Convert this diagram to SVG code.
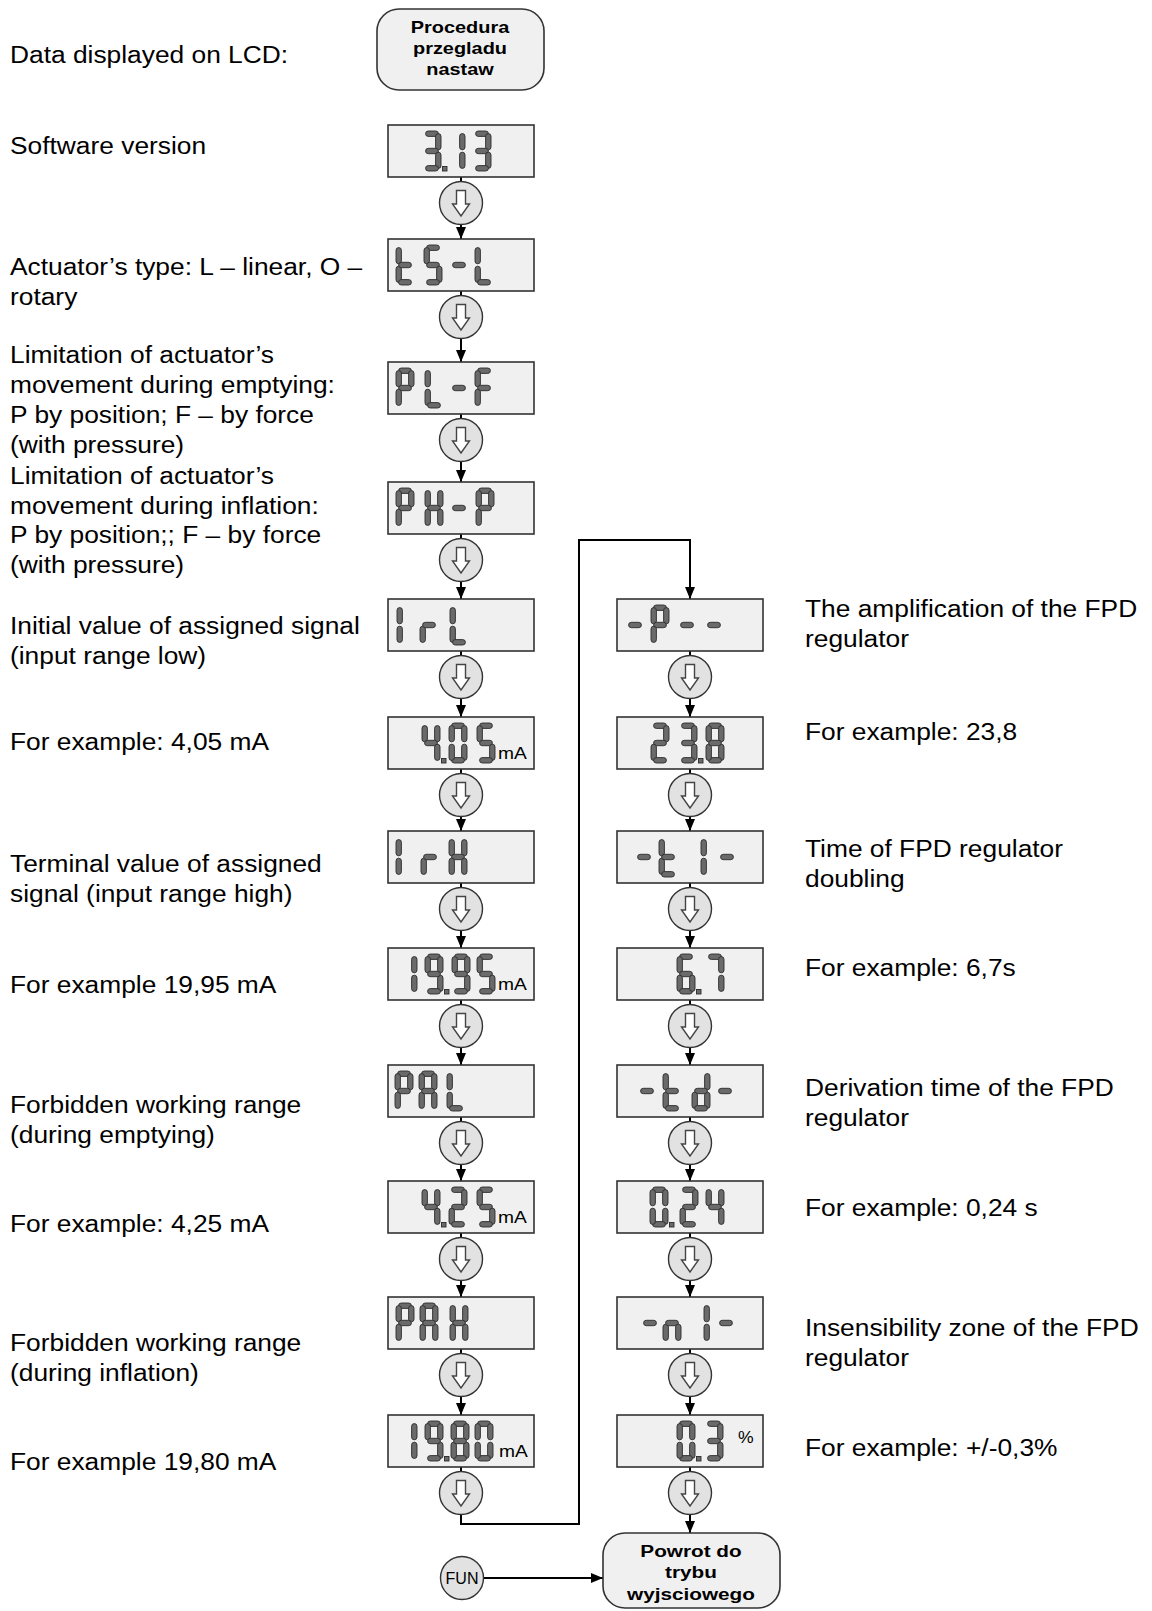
<svg xmlns="http://www.w3.org/2000/svg" xmlns:xlink="http://www.w3.org/1999/xlink" width="1152" height="1611" viewBox="0 0 1152 1611">
<style>
.box{fill:#f0f0f0;stroke:#333;stroke-width:1.6}
.btn{fill:#e2e2e2;stroke:#333;stroke-width:1.4}
.term{fill:#f0f0f0;stroke:#333;stroke-width:1.6}
.seg{fill:#6a6a6a;stroke:#2b2b2b;stroke-width:0.9}
.harr{fill:#fff;stroke:#444;stroke-width:1.4}
.lbl{font-family:"Liberation Sans",Arial,sans-serif;font-size:23px;fill:#000}
.tt{font-family:"Liberation Sans",Arial,sans-serif;font-size:17px;font-weight:bold;text-anchor:middle;fill:#000}
.unit{font-family:"Liberation Sans",Arial,sans-serif;font-size:16px;fill:#000}
.fun{font-family:"Liberation Sans",Arial,sans-serif;font-size:16px;text-anchor:middle;fill:#000}
.conn{fill:none;stroke:#000;stroke-width:2}
</style>
<defs>
<marker id="ah" viewBox="0 0 12 10" refX="12" refY="5" markerWidth="12" markerHeight="10" markerUnits="userSpaceOnUse" orient="auto"><path d="M0,0 L12,5 L0,10 z" fill="#000"/></marker>
<path id="darr" class="harr" d="M-4.5,-12.5 H4.5 V1 H8.5 L0,13 L-8.5,1 H-4.5 Z"/>
<rect id="sa" x="2.6" y="0" width="12.8" height="5.4" rx="2.7"/>
<rect id="sg" x="2.6" y="17.3" width="12.8" height="5.4" rx="2.7"/>
<rect id="sd" x="2.6" y="34.6" width="12.8" height="5.4" rx="2.7"/>
<rect id="sf" x="0" y="2.6" width="5.4" height="16.2" rx="2.7"/>
<rect id="sb" x="12.6" y="2.6" width="5.4" height="16.2" rx="2.7"/>
<rect id="se" x="0" y="21.2" width="5.4" height="16.2" rx="2.7"/>
<rect id="sc" x="12.6" y="21.2" width="5.4" height="16.2" rx="2.7"/>
<rect id="dp" width="4.5" height="4.5"/>
<g id="c0"><use href="#sa"/><use href="#sb"/><use href="#sc"/><use href="#sd"/><use href="#se"/><use href="#sf"/></g>
<g id="c1"><use href="#sb"/><use href="#sc"/></g>
<g id="c2"><use href="#sa"/><use href="#sb"/><use href="#sg"/><use href="#se"/><use href="#sd"/></g>
<g id="c3"><use href="#sa"/><use href="#sb"/><use href="#sg"/><use href="#sc"/><use href="#sd"/></g>
<g id="c4"><use href="#sf"/><use href="#sb"/><use href="#sg"/><use href="#sc"/></g>
<g id="c5"><use href="#sa"/><use href="#sf"/><use href="#sg"/><use href="#sc"/><use href="#sd"/></g>
<g id="c6"><use href="#sa"/><use href="#sf"/><use href="#sg"/><use href="#se"/><use href="#sd"/><use href="#sc"/></g>
<g id="c7"><use href="#sa"/><use href="#sb"/><use href="#sc"/></g>
<g id="c8"><use href="#sa"/><use href="#sb"/><use href="#sc"/><use href="#sd"/><use href="#se"/><use href="#sf"/><use href="#sg"/></g>
<g id="c9"><use href="#sa"/><use href="#sb"/><use href="#sc"/><use href="#sd"/><use href="#sf"/><use href="#sg"/></g>
<g id="cA"><use href="#sa"/><use href="#sb"/><use href="#sc"/><use href="#se"/><use href="#sf"/><use href="#sg"/></g>
<g id="cd"><use href="#sb"/><use href="#sc"/><use href="#sg"/><use href="#se"/><use href="#sd"/></g>
<g id="cF"><use href="#sa"/><use href="#sf"/><use href="#sg"/><use href="#se"/></g>
<g id="cH"><use href="#sf"/><use href="#sb"/><use href="#sg"/><use href="#se"/><use href="#sc"/></g>
<g id="cI"><use href="#sf"/><use href="#se"/></g>
<g id="cL"><use href="#sf"/><use href="#se"/><use href="#sd"/></g>
<g id="cn"><use href="#se"/><use href="#sg"/><use href="#sc"/></g>
<g id="cP"><use href="#sa"/><use href="#sb"/><use href="#sf"/><use href="#sg"/><use href="#se"/></g>
<g id="cr"><use href="#se"/><use href="#sg"/></g>
<g id="ct"><use href="#sf"/><use href="#se"/><use href="#sg"/><use href="#sd"/></g>
<g id="cm"><use href="#sg"/></g>
</defs>
<rect width="1152" height="1611" fill="#fff"/>

<g id="labels">
<text class="lbl" transform="translate(10 63) scale(1.145 1)">Data displayed on LCD:</text>
<text class="lbl" transform="translate(10 154) scale(1.145 1)">Software version</text>
<text class="lbl" transform="translate(10 275) scale(1.145 1)">Actuator’s type: L – linear, O –</text>
<text class="lbl" transform="translate(10 305) scale(1.145 1)">rotary</text>
<text class="lbl" transform="translate(10 363) scale(1.145 1)">Limitation of actuator’s</text>
<text class="lbl" transform="translate(10 393) scale(1.145 1)">movement during emptying:</text>
<text class="lbl" transform="translate(10 423) scale(1.145 1)">P by position; F – by force</text>
<text class="lbl" transform="translate(10 453) scale(1.145 1)">(with pressure)</text>
<text class="lbl" transform="translate(10 484) scale(1.145 1)">Limitation of actuator’s</text>
<text class="lbl" transform="translate(10 514) scale(1.145 1)">movement during inflation:</text>
<text class="lbl" transform="translate(10 543) scale(1.145 1)">P by position;; F – by force</text>
<text class="lbl" transform="translate(10 573) scale(1.145 1)">(with pressure)</text>
<text class="lbl" transform="translate(10 634) scale(1.145 1)">Initial value of assigned signal</text>
<text class="lbl" transform="translate(10 664) scale(1.145 1)">(input range low)</text>
<text class="lbl" transform="translate(10 750) scale(1.145 1)">For example: 4,05 mA</text>
<text class="lbl" transform="translate(10 872) scale(1.145 1)">Terminal value of assigned</text>
<text class="lbl" transform="translate(10 902) scale(1.145 1)">signal (input range high)</text>
<text class="lbl" transform="translate(10 993) scale(1.145 1)">For example 19,95 mA</text>
<text class="lbl" transform="translate(10 1113) scale(1.145 1)">Forbidden working range</text>
<text class="lbl" transform="translate(10 1143) scale(1.145 1)">(during emptying)</text>
<text class="lbl" transform="translate(10 1232) scale(1.145 1)">For example: 4,25 mA</text>
<text class="lbl" transform="translate(10 1351) scale(1.145 1)">Forbidden working range</text>
<text class="lbl" transform="translate(10 1381) scale(1.145 1)">(during inflation)</text>
<text class="lbl" transform="translate(10 1470) scale(1.145 1)">For example 19,80 mA</text>
<text class="lbl" transform="translate(805 617) scale(1.145 1)">The amplification of the FPD</text>
<text class="lbl" transform="translate(805 647) scale(1.145 1)">regulator</text>
<text class="lbl" transform="translate(805 740) scale(1.145 1)">For example: 23,8</text>
<text class="lbl" transform="translate(805 857) scale(1.145 1)">Time of FPD regulator</text>
<text class="lbl" transform="translate(805 887) scale(1.145 1)">doubling</text>
<text class="lbl" transform="translate(805 976) scale(1.145 1)">For example: 6,7s</text>
<text class="lbl" transform="translate(805 1096) scale(1.145 1)">Derivation time of the FPD</text>
<text class="lbl" transform="translate(805 1126) scale(1.145 1)">regulator</text>
<text class="lbl" transform="translate(805 1216) scale(1.145 1)">For example: 0,24 s</text>
<text class="lbl" transform="translate(805 1336) scale(1.145 1)">Insensibility zone of the FPD</text>
<text class="lbl" transform="translate(805 1366) scale(1.145 1)">regulator</text>
<text class="lbl" transform="translate(805 1456) scale(1.145 1)">For example: +/-0,3%</text>
</g>

<g id="connectors">
<line class="conn" x1="461" y1="177" x2="461" y2="181.5"/>
<line class="conn" x1="461" y1="224.5" x2="461" y2="239" marker-end="url(#ah)"/>
<line class="conn" x1="461" y1="291" x2="461" y2="295.5"/>
<line class="conn" x1="461" y1="338.5" x2="461" y2="362" marker-end="url(#ah)"/>
<line class="conn" x1="461" y1="414" x2="461" y2="418.5"/>
<line class="conn" x1="461" y1="461.5" x2="461" y2="482" marker-end="url(#ah)"/>
<line class="conn" x1="461" y1="534" x2="461" y2="538.5"/>
<line class="conn" x1="461" y1="581.5" x2="461" y2="599" marker-end="url(#ah)"/>
<line class="conn" x1="461" y1="651" x2="461" y2="655.5"/>
<line class="conn" x1="461" y1="698.5" x2="461" y2="717" marker-end="url(#ah)"/>
<line class="conn" x1="461" y1="769" x2="461" y2="773.5"/>
<line class="conn" x1="461" y1="816.5" x2="461" y2="831" marker-end="url(#ah)"/>
<line class="conn" x1="461" y1="883" x2="461" y2="887.5"/>
<line class="conn" x1="461" y1="930.5" x2="461" y2="948" marker-end="url(#ah)"/>
<line class="conn" x1="461" y1="1000" x2="461" y2="1004.5"/>
<line class="conn" x1="461" y1="1047.5" x2="461" y2="1065" marker-end="url(#ah)"/>
<line class="conn" x1="461" y1="1117" x2="461" y2="1121.5"/>
<line class="conn" x1="461" y1="1164.5" x2="461" y2="1181" marker-end="url(#ah)"/>
<line class="conn" x1="461" y1="1233" x2="461" y2="1237.5"/>
<line class="conn" x1="461" y1="1280.5" x2="461" y2="1297" marker-end="url(#ah)"/>
<line class="conn" x1="461" y1="1349" x2="461" y2="1353.5"/>
<line class="conn" x1="461" y1="1396.5" x2="461" y2="1415" marker-end="url(#ah)"/>
<line class="conn" x1="461" y1="1467" x2="461" y2="1471.5"/>
<polyline class="conn" points="461,1514.5 461,1524 579,1524 579,540 690,540 690,599" marker-end="url(#ah)"/>
<line class="conn" x1="690" y1="651" x2="690" y2="655.5"/>
<line class="conn" x1="690" y1="698.5" x2="690" y2="717" marker-end="url(#ah)"/>
<line class="conn" x1="690" y1="769" x2="690" y2="773.5"/>
<line class="conn" x1="690" y1="816.5" x2="690" y2="831" marker-end="url(#ah)"/>
<line class="conn" x1="690" y1="883" x2="690" y2="887.5"/>
<line class="conn" x1="690" y1="930.5" x2="690" y2="948" marker-end="url(#ah)"/>
<line class="conn" x1="690" y1="1000" x2="690" y2="1004.5"/>
<line class="conn" x1="690" y1="1047.5" x2="690" y2="1065" marker-end="url(#ah)"/>
<line class="conn" x1="690" y1="1117" x2="690" y2="1121.5"/>
<line class="conn" x1="690" y1="1164.5" x2="690" y2="1181" marker-end="url(#ah)"/>
<line class="conn" x1="690" y1="1233" x2="690" y2="1237.5"/>
<line class="conn" x1="690" y1="1280.5" x2="690" y2="1297" marker-end="url(#ah)"/>
<line class="conn" x1="690" y1="1349" x2="690" y2="1353.5"/>
<line class="conn" x1="690" y1="1396.5" x2="690" y2="1415" marker-end="url(#ah)"/>
<line class="conn" x1="690" y1="1467" x2="690" y2="1471.5"/>
<line class="conn" x1="690" y1="1514.5" x2="690" y2="1533" marker-end="url(#ah)"/>
<line class="conn" x1="483.5" y1="1578" x2="603" y2="1578" marker-end="url(#ah)"/>
</g>

<g id="start">
<rect class="term" x="377" y="9" width="167" height="81" rx="22"/>
<text class="tt" transform="translate(460 33) scale(1.17 1)">Procedura</text>
<text class="tt" transform="translate(460 54) scale(1.17 1)">przegladu</text>
<text class="tt" transform="translate(460 75) scale(1.17 1)">nastaw</text>
</g>

<g id="end">
<rect class="term" x="603" y="1533" width="177" height="75" rx="22"/>
<text class="tt" transform="translate(691 1557) scale(1.22 1)">Powrot do</text>
<text class="tt" transform="translate(691 1578) scale(1.22 1)">trybu</text>
<text class="tt" transform="translate(691 1600) scale(1.22 1)">wyjsciowego</text>
</g>

<g id="fun">
<circle class="btn" cx="462" cy="1578" r="21.5"/>
<text class="fun" x="462" y="1584">FUN</text>
</g>

<g id="d-313">
<rect class="box" x="388" y="125" width="146" height="52"/>
<g class="seg"><use href="#c3" x="423" y="131"/><use href="#dp" x="442.5" y="166.5"/><use href="#c1" x="447" y="131"/><use href="#c3" x="473" y="131"/></g>
</g>
<g id="b0"><circle class="btn" cx="461" cy="203" r="21.5"/><use href="#darr" x="461" y="203"/></g>

<g id="d-tsl">
<rect class="box" x="388" y="239" width="146" height="52"/>
<g class="seg"><use href="#ct" x="396" y="245"/><use href="#c5" x="424" y="245"/><use href="#cm" x="450" y="245"/><use href="#cL" x="475" y="245"/></g>
</g>
<g id="b1"><circle class="btn" cx="461" cy="317" r="21.5"/><use href="#darr" x="461" y="317"/></g>

<g id="d-plf">
<rect class="box" x="388" y="362" width="146" height="52"/>
<g class="seg"><use href="#cP" x="396" y="368"/><use href="#cL" x="425" y="368"/><use href="#cm" x="450" y="368"/><use href="#cF" x="475" y="368"/></g>
</g>
<g id="b2"><circle class="btn" cx="461" cy="440" r="21.5"/><use href="#darr" x="461" y="440"/></g>

<g id="d-php">
<rect class="box" x="388" y="482" width="146" height="52"/>
<g class="seg"><use href="#cP" x="396" y="488"/><use href="#cH" x="425" y="488"/><use href="#cm" x="450" y="488"/><use href="#cP" x="476" y="488"/></g>
</g>
<g id="b3"><circle class="btn" cx="461" cy="560" r="21.5"/><use href="#darr" x="461" y="560"/></g>

<g id="d-irl">
<rect class="box" x="388" y="599" width="146" height="52"/>
<g class="seg"><use href="#cI" x="397" y="605"/><use href="#cr" x="420" y="605"/><use href="#cL" x="450" y="605"/></g>
</g>
<g id="b4"><circle class="btn" cx="461" cy="677" r="21.5"/><use href="#darr" x="461" y="677"/></g>

<g id="d-405">
<rect class="box" x="388" y="717" width="146" height="52"/>
<g class="seg"><use href="#c4" x="422" y="723"/><use href="#dp" x="441.5" y="758.5"/><use href="#c0" x="449" y="723"/><use href="#c5" x="477" y="723"/></g>
<text class="unit" transform="translate(498 759) scale(1.2 1)">mA</text>
</g>
<g id="b5"><circle class="btn" cx="461" cy="795" r="21.5"/><use href="#darr" x="461" y="795"/></g>

<g id="d-irh">
<rect class="box" x="388" y="831" width="146" height="52"/>
<g class="seg"><use href="#cI" x="396" y="837"/><use href="#cr" x="421" y="837"/><use href="#cH" x="449" y="837"/></g>
</g>
<g id="b6"><circle class="btn" cx="461" cy="909" r="21.5"/><use href="#darr" x="461" y="909"/></g>

<g id="d-1995">
<rect class="box" x="388" y="948" width="146" height="52"/>
<g class="seg"><use href="#c1" x="399" y="954"/><use href="#c9" x="425" y="954"/><use href="#dp" x="444.5" y="989.5"/><use href="#c9" x="452" y="954"/><use href="#c5" x="477" y="954"/></g>
<text class="unit" transform="translate(498 990) scale(1.2 1)">mA</text>
</g>
<g id="b7"><circle class="btn" cx="461" cy="1026" r="21.5"/><use href="#darr" x="461" y="1026"/></g>

<g id="d-pal">
<rect class="box" x="388" y="1065" width="146" height="52"/>
<g class="seg"><use href="#cP" x="395" y="1071"/><use href="#cA" x="419" y="1071"/><use href="#cL" x="447" y="1071"/></g>
</g>
<g id="b8"><circle class="btn" cx="461" cy="1143" r="21.5"/><use href="#darr" x="461" y="1143"/></g>

<g id="d-425">
<rect class="box" x="388" y="1181" width="146" height="52"/>
<g class="seg"><use href="#c4" x="422" y="1187"/><use href="#dp" x="441.5" y="1222.5"/><use href="#c2" x="449" y="1187"/><use href="#c5" x="477" y="1187"/></g>
<text class="unit" transform="translate(498 1223) scale(1.2 1)">mA</text>
</g>
<g id="b9"><circle class="btn" cx="461" cy="1259" r="21.5"/><use href="#darr" x="461" y="1259"/></g>

<g id="d-pah">
<rect class="box" x="388" y="1297" width="146" height="52"/>
<g class="seg"><use href="#cP" x="396" y="1303"/><use href="#cA" x="420" y="1303"/><use href="#cH" x="450" y="1303"/></g>
</g>
<g id="b10"><circle class="btn" cx="461" cy="1375" r="21.5"/><use href="#darr" x="461" y="1375"/></g>

<g id="d-1980">
<rect class="box" x="388" y="1415" width="146" height="52"/>
<g class="seg"><use href="#c1" x="399" y="1421"/><use href="#c9" x="425" y="1421"/><use href="#dp" x="444.5" y="1456.5"/><use href="#c8" x="451" y="1421"/><use href="#c0" x="475" y="1421"/></g>
<text class="unit" transform="translate(499 1457) scale(1.2 1)">mA</text>
</g>
<g id="b11"><circle class="btn" cx="461" cy="1493" r="21.5"/><use href="#darr" x="461" y="1493"/></g>

<g id="d-p">
<rect class="box" x="617" y="599" width="146" height="52"/>
<g class="seg"><use href="#cm" x="626" y="605"/><use href="#cP" x="651" y="605"/><use href="#cm" x="678" y="605"/><use href="#cm" x="705" y="605"/></g>
</g>
<g id="rb4"><circle class="btn" cx="690" cy="677" r="21.5"/><use href="#darr" x="690" y="677"/></g>

<g id="d-238">
<rect class="box" x="617" y="717" width="146" height="52"/>
<g class="seg"><use href="#c2" x="651" y="723"/><use href="#c3" x="679" y="723"/><use href="#dp" x="698.5" y="758.5"/><use href="#c8" x="706" y="723"/></g>
</g>
<g id="rb5"><circle class="btn" cx="690" cy="795" r="21.5"/><use href="#darr" x="690" y="795"/></g>

<g id="d-ti">
<rect class="box" x="617" y="831" width="146" height="52"/>
<g class="seg"><use href="#cm" x="635" y="837"/><use href="#ct" x="659" y="837"/><use href="#cI" x="701" y="837"/><use href="#cm" x="718" y="837"/></g>
</g>
<g id="rb6"><circle class="btn" cx="690" cy="909" r="21.5"/><use href="#darr" x="690" y="909"/></g>

<g id="d-67">
<rect class="box" x="617" y="948" width="146" height="52"/>
<g class="seg"><use href="#c6" x="677" y="954"/><use href="#dp" x="696.5" y="989.5"/><use href="#c7" x="706" y="954"/></g>
</g>
<g id="rb7"><circle class="btn" cx="690" cy="1026" r="21.5"/><use href="#darr" x="690" y="1026"/></g>

<g id="d-td">
<rect class="box" x="617" y="1065" width="146" height="52"/>
<g class="seg"><use href="#cm" x="638" y="1071"/><use href="#ct" x="663" y="1071"/><use href="#cd" x="692" y="1071"/><use href="#cm" x="716" y="1071"/></g>
</g>
<g id="rb8"><circle class="btn" cx="690" cy="1143" r="21.5"/><use href="#darr" x="690" y="1143"/></g>

<g id="d-024">
<rect class="box" x="617" y="1181" width="146" height="52"/>
<g class="seg"><use href="#c0" x="650" y="1187"/><use href="#dp" x="669.5" y="1222.5"/><use href="#c2" x="680" y="1187"/><use href="#c4" x="706" y="1187"/></g>
</g>
<g id="rb9"><circle class="btn" cx="690" cy="1259" r="21.5"/><use href="#darr" x="690" y="1259"/></g>

<g id="d-ni">
<rect class="box" x="617" y="1297" width="146" height="52"/>
<g class="seg"><use href="#cm" x="641" y="1303"/><use href="#cn" x="663" y="1303"/><use href="#cI" x="704" y="1303"/><use href="#cm" x="717" y="1303"/></g>
</g>
<g id="rb10"><circle class="btn" cx="690" cy="1375" r="21.5"/><use href="#darr" x="690" y="1375"/></g>

<g id="d-03">
<rect class="box" x="617" y="1415" width="146" height="52"/>
<g class="seg"><use href="#c0" x="677" y="1421"/><use href="#dp" x="696.5" y="1456.5"/><use href="#c3" x="705" y="1421"/></g>
<text class="unit" transform="translate(738 1443) scale(1.1 1)">%</text>
</g>
<g id="rb11"><circle class="btn" cx="690" cy="1493" r="21.5"/><use href="#darr" x="690" y="1493"/></g>
</svg>
